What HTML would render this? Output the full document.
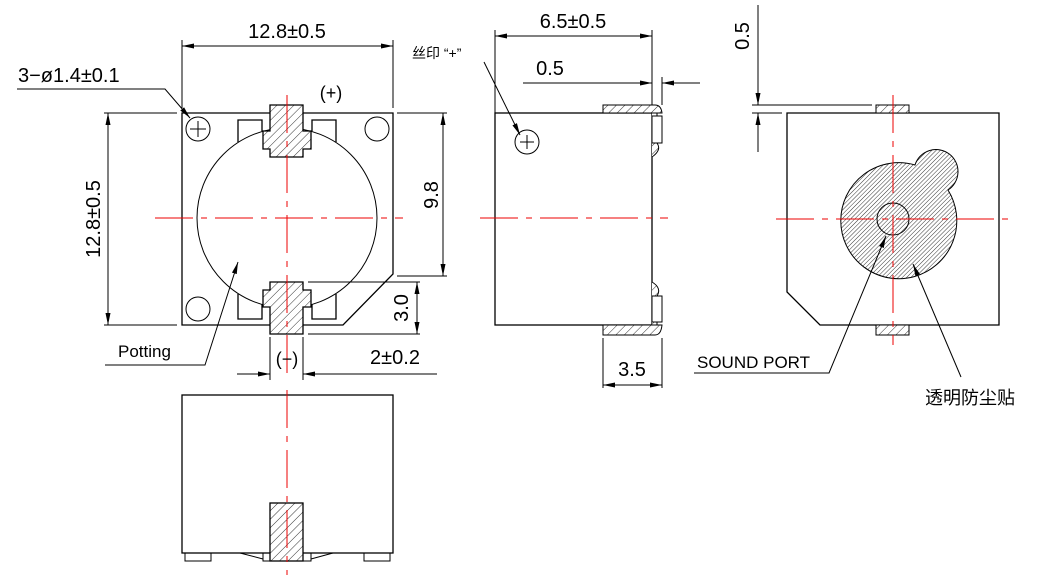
<!DOCTYPE html>
<html><head><meta charset="utf-8"><style>
html,body{margin:0;padding:0;background:#fff;}
svg{display:block;}
text{font-family:"Liberation Sans","Noto Sans CJK SC",sans-serif;fill:#000;}
</style></head><body>
<svg width="1062" height="584" viewBox="0 0 1062 584" xmlns="http://www.w3.org/2000/svg">
<defs>
<pattern id="h" width="6" height="6" patternUnits="userSpaceOnUse" patternTransform="rotate(45)">
<rect width="6" height="6" fill="#fff"/>
<line x1="0" y1="0" x2="0" y2="6" stroke="#000" stroke-width="0.8"/></pattern>
<pattern id="hd" width="3" height="3" patternUnits="userSpaceOnUse" patternTransform="rotate(45)">
<line x1="0" y1="0" x2="0" y2="3" stroke="#000" stroke-width="0.8"/></pattern>
<marker id="a" viewBox="0 0 12 6" refX="12" refY="3" markerWidth="12" markerHeight="6" markerUnits="userSpaceOnUse" orient="auto-start-reverse"><path d="M0,0.5 L12,3 L0,5.5z" fill="#000"/></marker>
</defs>
<g fill="none" stroke="#000" stroke-width="1.3">
<!-- FRONT VIEW -->
<path d="M182,113 H393 V274 L343,325 H182 Z"/>
<circle cx="287" cy="218" r="90" stroke-width="1"/>
<path d="M238,142 V120 H262 V131"/>
<path d="M312,131 V120 H336 V142"/>
<path d="M238,294 V319 H262 V304"/>
<path d="M312,304 V319 H336 V294"/>
<path d="M270,105 H303 V131 H311 V149 H303 V157 H270 V149 H263 V131 H270 Z" fill="url(#h)"/>
<path d="M270,282 H303 V290 H311 V307 H303 V334 H270 V307 H263 V290 H270 Z" fill="url(#h)"/>
<circle cx="198" cy="129" r="12" stroke-width="1"/>
<path d="M190,129 H206 M198,121 V137" stroke-width="1"/>
<circle cx="377" cy="129" r="12" stroke-width="1"/>
<circle cx="198" cy="309" r="12" stroke-width="1"/>
<!-- dims front -->
<path d="M182,40 V108 M393,40 V108" stroke-width="1"/>
<path d="M182,46 H393" stroke-width="1" marker-start="url(#a)" marker-end="url(#a)"/>
<path d="M104,113 H177 M104,325 H177" stroke-width="1"/>
<path d="M108,113 V325" stroke-width="1" marker-start="url(#a)" marker-end="url(#a)"/>
<path d="M397,113 H447 M397,276 H447" stroke-width="1"/>
<path d="M443,113 V276" stroke-width="1" marker-start="url(#a)" marker-end="url(#a)"/>
<path d="M308,282 H420 M308,334 H420" stroke-width="1"/>
<path d="M417,282 V334" stroke-width="1" marker-start="url(#a)" marker-end="url(#a)"/>
<path d="M270,337 V380 M303,337 V380" stroke-width="1"/>
<path d="M237,374 H270" stroke-width="1" marker-end="url(#a)"/>
<path d="M437,374 H303" stroke-width="1" marker-end="url(#a)"/>
<path d="M17,89 H165 L190,118" stroke-width="1" marker-end="url(#a)"/>
<path d="M105,365 H205 L238,262" stroke-width="1" marker-end="url(#a)"/>
<!-- SIDE VIEW -->
<rect x="495" y="113" width="157" height="212"/>
<path d="M603,105 H655 Q661,105 662,113 H603 Z" fill="url(#h)" stroke-width="1"/>
<path d="M603,335 H655 Q661,335 662,325 H603 Z" fill="url(#h)" stroke-width="1"/>
<path d="M652,113 H657 V143 Q662,150 652,157" fill="url(#h)" stroke-width="1"/>
<rect x="652" y="116" width="10" height="27" fill="#fff" stroke-width="1"/>
<path d="M652,325 H657 V296 Q662,288 652,282" fill="url(#h)" stroke-width="1"/>
<rect x="652" y="296" width="10" height="26" fill="#fff" stroke-width="1"/>
<circle cx="527" cy="142" r="12" stroke-width="1"/>
<path d="M520,142 H534 M527,135 V149" stroke-width="1"/>
<path d="M495,30 V113 M652,30 V105 M662,77 V105" stroke-width="1"/>
<path d="M495,36 H652" stroke-width="1" marker-start="url(#a)" marker-end="url(#a)"/>
<path d="M523,83 H652" stroke-width="1" marker-end="url(#a)"/>
<path d="M700,83 H662" stroke-width="1" marker-end="url(#a)"/>
<path d="M484,62 L520,135" stroke-width="1" marker-end="url(#a)"/>
<path d="M603,338 V388 M662,338 V388" stroke-width="1"/>
<path d="M603,385 H662" stroke-width="1" marker-start="url(#a)" marker-end="url(#a)"/>
<!-- BACK VIEW -->
<path d="M787,113 H999 V325 H820 L787,292 Z"/>
<rect x="876" y="105" width="33" height="8" fill="url(#h)" stroke-width="1"/>
<rect x="876" y="325" width="33" height="10" fill="url(#h)" stroke-width="1"/>
<path d="M948,190 A58,58 0 1 1 915,165 A22,22 0 1 1 948,190 Z" fill="url(#hd)" stroke-width="1"/>
<circle cx="893" cy="219" r="16" stroke-width="1"/>
<path d="M752,105 H872 M752,113 H782" stroke-width="1"/>
<path d="M758,5 V105" stroke-width="1" marker-end="url(#a)"/>
<path d="M758,152 V113" stroke-width="1" marker-end="url(#a)"/>
<path d="M694,373 H829 L886,236" stroke-width="1" marker-end="url(#a)"/>
<path d="M961,377 L913,264" stroke-width="1" marker-end="url(#a)"/>
<!-- BOTTOM VIEW -->
<rect x="182" y="395" width="211" height="158"/>
<rect x="185" y="553" width="26" height="8" stroke-width="1"/>
<rect x="364" y="553" width="26" height="8" stroke-width="1"/>
<rect x="263" y="553" width="48" height="8" stroke-width="1"/>
<rect x="270" y="503" width="33" height="58" fill="url(#h)"/>
<path d="M240,553 L263,559 M333,553 L311,559" stroke-width="1"/>
</g>
<!-- centerlines -->
<g stroke="#e00" stroke-width="1" stroke-dasharray="38,8,6,8" fill="none">
<path d="M155,218 H403"/><path d="M287,95 V375"/>
<path d="M480,218 H668"/>
<path d="M776,219 H1010"/><path d="M893,95 V345"/>
<path d="M287,390 V575"/>
</g>
<g font-size="20">
<text x="287" y="38" text-anchor="middle">12.8±0.5</text>
<text x="18" y="82">3−ø1.4±0.1</text>
<text x="331" y="99" text-anchor="middle" font-size="18">(+)</text>
<text transform="translate(100,219) rotate(-90)" text-anchor="middle">12.8±0.5</text>
<text transform="translate(438,195) rotate(-90)" text-anchor="middle">9.8</text>
<text transform="translate(408,308) rotate(-90)" text-anchor="middle">3.0</text>
<text x="287" y="365" text-anchor="middle" font-size="18">(−)</text>
<text x="395" y="364" text-anchor="middle">2±0.2</text>
<text x="118" y="357" font-size="17">Potting</text>
<text x="573" y="28" text-anchor="middle">6.5±0.5</text>
<text x="550" y="75" text-anchor="middle">0.5</text>
<text x="412" y="58" font-size="14">丝印 “+”</text>
<text x="632" y="376" text-anchor="middle">3.5</text>
<text transform="translate(749,36) rotate(-90)" text-anchor="middle">0.5</text>
<text x="697" y="368" font-size="17">SOUND PORT</text>
<text x="925" y="404" font-size="18">透明防尘贴</text>
</g>
</svg>
</body></html>
